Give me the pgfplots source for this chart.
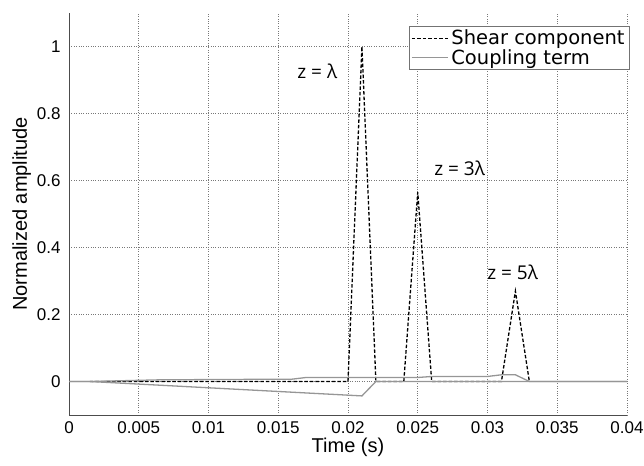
\documentclass[border=0pt]{standalone}
\usepackage{pgfplots}
\pgfplotsset{compat=1.18}
\usepackage{fontspec}
\setmainfont{Liberation Sans}
\newfontfamily\legfont{DejaVu Sans}
\newfontfamily\annfont{Open Sans}
\usetikzlibrary{calc}
\definecolor{coupling}{RGB}{150,150,150}
\definecolor{gridc}{RGB}{120,120,120}

\begin{document}
\begin{tikzpicture}
\begin{axis}[
name=ax,
scale only axis,
width=558pt,
height=402pt,
xmin=0, xmax=0.04,
ymin=-0.1, ymax=1.1,
axis lines=left,
axis line style={-, draw=black!70, line width=0.8pt},
xtick={0,0.005,...,0.04},
ytick={0,0.2,0.4,0.6,0.8,1},
xticklabels={0,0.005,0.01,0.015,0.02,0.025,0.03,0.035,0.04},
yticklabels={0,0.2,0.4,0.6,0.8,1},
scaled x ticks=false,
/pgf/number format/assume math mode=true,
major tick length=0pt,
grid=major,
major grid style={dotted, draw=gridc, line width=0.6pt},
tick label style={font=\fontsize{17}{19}\selectfont},
xticklabel style={yshift=-3pt},
yticklabel style={xshift=-5pt},
xlabel={Time (s)},
ylabel={Normalized amplitude},
label style={font=\fontsize{20}{22}\selectfont},
xlabel style={yshift=2pt},
ylabel style={yshift=-1pt},
legend style={at={(1.005,0.968)}, anchor=north east, draw=black!55,
  font=\legfont\fontsize{19.5}{21}\selectfont, row sep=-1pt, inner sep=2pt,
  nodes={inner xsep=3pt}},
legend cell align=left,
legend image code/.code={\draw[#1, line width=1.2pt] (0pt,0pt) -- (36pt,0pt);},
clip=false,
]
\addplot[black, line width=1.3pt, dash pattern=on 3.5pt off 2pt] coordinates {
(0.0015,0) (0.020,0) (0.021,1.0) (0.022,0) (0.024,0) (0.025,0.565)
(0.026,0) (0.031,0) (0.032,0.27) (0.033,0)
};
\addlegendentry{Shear component}
\addplot[coupling, line width=1.3pt] coordinates {
(0,0) (0.0015,0) (0.0065,0.005) (0.016,0.007) (0.017,0.012) (0.025,0.012)
(0.026,0.015) (0.030,0.015) (0.031,0.02) (0.032,0.02) (0.033,0) (0.04,0)
};
\addlegendentry{Coupling term}
\addplot[coupling, line width=1.3pt, forget plot] coordinates {
(0,0) (0.0015,0) (0.021,-0.043) (0.022,0) (0.04,0)
};
\node[font=\annfont\fontsize{19}{21}\selectfont] at (axis cs:0.0178,0.925) {z = λ};
\node[font=\annfont\fontsize{19}{21}\selectfont] at (axis cs:0.0280,0.635) {z = 3λ};
\node[font=\annfont\fontsize{19}{21}\selectfont] at (axis cs:0.0318,0.326) {z = 5λ};
\end{axis}
\pgfresetboundingbox
\path ($(ax.south west)+(-69pt,-50pt)$) rectangle ($(ax.north east)+(17pt,13pt)$);
\end{tikzpicture}
\end{document}
